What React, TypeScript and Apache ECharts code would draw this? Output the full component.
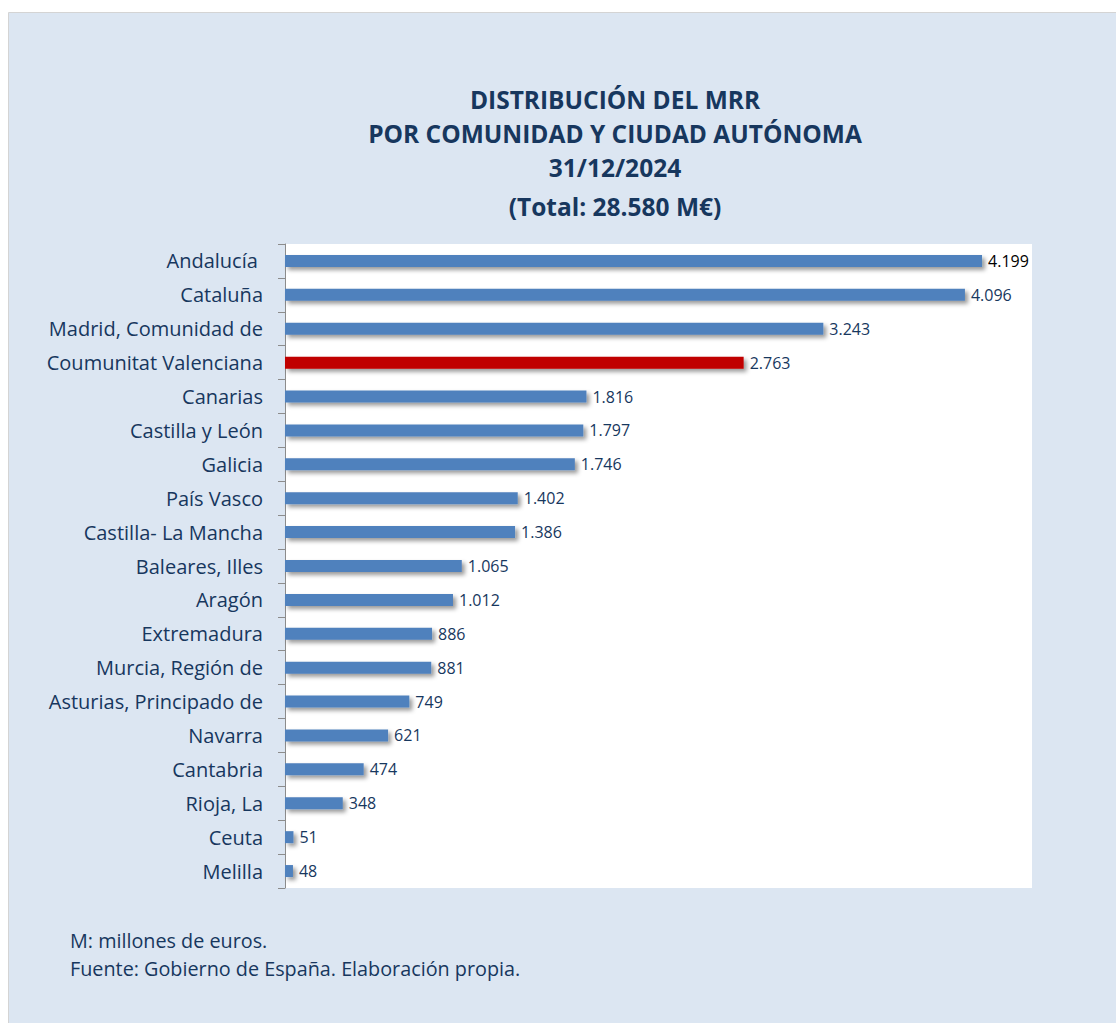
import React, { useEffect, useRef } from "react";
import * as echarts from "echarts";

const categories = [
  "Andalucía ",
  "Cataluña",
  "Madrid, Comunidad de",
  "Coumunitat Valenciana",
  "Canarias",
  "Castilla y León",
  "Galicia",
  "País Vasco",
  "Castilla- La Mancha",
  "Baleares, Illes",
  "Aragón",
  "Extremadura",
  "Murcia, Región de",
  "Asturias, Principado de",
  "Navarra",
  "Cantabria",
  "Rioja, La",
  "Ceuta",
  "Melilla",
];
const values = [4199, 4096, 3243, 2763, 1816, 1797, 1746, 1402, 1386, 1065, 1012, 886, 881, 749, 621, 474, 348, 51, 48];
const highlight = "Coumunitat Valenciana";
const titleLines = ["DISTRIBUCIÓN DEL MRR", "POR COMUNIDAD Y CIUDAD AUTÓNOMA", "31/12/2024", "(Total: 28.580 M€)"];
const footLines = ["M: millones de euros.", "Fuente: Gobierno de España. Elaboración propia."];

const FONT = "'Open Sans', sans-serif";
const NAVY = "#17375e";

function fmt(v: number): string {
  return String(v).replace(/\B(?=(\d{3})+(?!\d))/g, ".");
}

export default function App() {
  const ref = useRef<HTMLDivElement>(null);
  useEffect(() => {
    if (!ref.current) return;
    const chart = echarts.init(ref.current, undefined, { renderer: "svg" });
    const titleY = [99, 133, 167, 206];
    chart.setOption({
      animation: false,
      graphic: [
        {
          type: "rect",
          z: -10,
          shape: { x: 8.5, y: 12.5, width: 1120, height: 1020 },
          style: { fill: "#dce6f2", stroke: "#d4d4d4", lineWidth: 1 },
        },
        ...titleLines.map((t, i) => ({
          type: "text",
          x: 615,
          y: titleY[i],
          style: {
            text: t,
            fill: NAVY,
            font: `bold 24.5px ${FONT}`,
            textAlign: "center",
            textVerticalAlign: "middle",
          },
        })),
        ...footLines.map((t, i) => ({
          type: "text",
          x: 70,
          y: 940 + i * 28,
          style: {
            text: t,
            fill: NAVY,
            font: `19.8px ${FONT}`,
            textAlign: "left",
            textVerticalAlign: "middle",
          },
        })),
      ],
      grid: {
        left: 285,
        top: 244,
        width: 747,
        height: 644,
        show: true,
        backgroundColor: "#ffffff",
        borderWidth: 0,
        containLabel: false,
      },
      xAxis: {
        type: "value",
        min: 0,
        max: 4500,
        show: false,
      },
      yAxis: {
        type: "category",
        inverse: true,
        data: categories,
        axisLine: { show: true, lineStyle: { color: "#8c8c8c", width: 1 } },
        axisTick: { show: true, length: 7, lineStyle: { color: "#8c8c8c" } },
        axisLabel: {
          color: NAVY,
          fontSize: 20,
          fontFamily: FONT,
          margin: 22,
        },
        splitLine: { show: false },
      },
      series: [
        {
          type: "bar",
          barWidth: 12,
          data: values.map((v, i) => ({
            value: v,
            itemStyle: {
              color: categories[i] === highlight ? "#c00000" : "#4f81bd",
            },
            label: i === 0 ? { color: "#000000" } : undefined,
          })),
          itemStyle: {
            shadowBlur: 4,
            shadowOffsetX: 3,
            shadowOffsetY: 3,
            shadowColor: "rgba(0,0,0,0.4)",
          },
          label: {
            show: true,
            position: "right",
            distance: 6,
            color: NAVY,
            fontSize: 16,
            fontFamily: FONT,
            formatter: (p: any) => fmt(p.value),
          },
        },
      ],
    });
    return () => chart.dispose();
  }, []);
  return (
    <div
      ref={ref}
      style={{ position: "absolute", left: 0, top: 0, width: 1116, height: 1023 }}
    />
  );
}
